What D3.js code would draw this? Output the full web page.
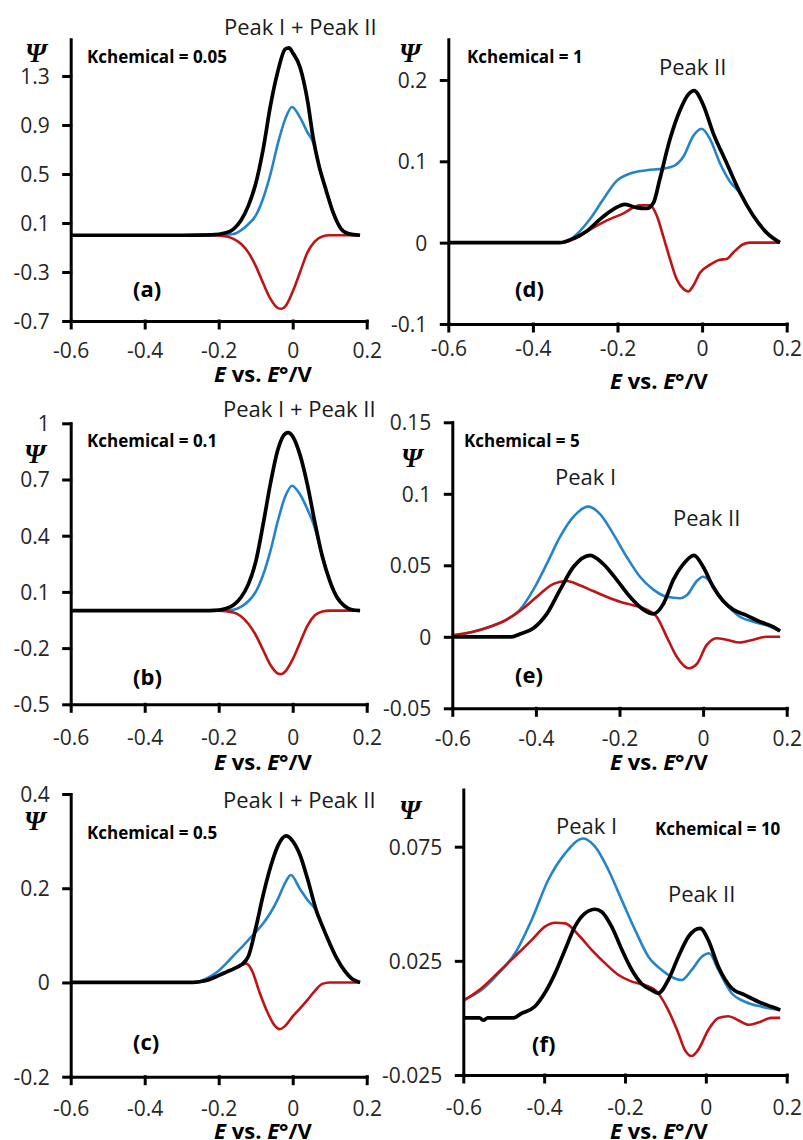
<!DOCTYPE html>
<html>
<head>
<meta charset="utf-8">
<script src="https://cdn.jsdelivr.net/npm/d3@7"></script>
<style>
  body { margin: 0; background: #fff; }
  svg { display: block; }
  .axis path, .axis line { stroke: #000; stroke-width: 3; stroke-linecap: square; }
  .axis text { font-family: "Open Sans", sans-serif; font-size: 21px; fill: #262626; }
  .txt { font-family: "Open Sans", sans-serif; fill: #1a1a1a; }
</style>
</head>
<body>
<div id="chart"></div>
<script>
// E vs. E°/V (V) and Psi values
const xTicks = [-0.6, -0.4, -0.2, 0, 0.2];

const yTicksA = [-0.7, -0.3, 0.1, 0.5, 0.9, 1.3];
const yTicksB = [-0.5, -0.2, 0.1, 0.4, 0.7, 1];
const yTicksC = [-0.2, 0, 0.2, 0.4];
const yTicksD = [-0.1, 0, 0.1, 0.2];
const yTicksE = [-0.05, 0, 0.05, 0.1, 0.15];
const yTicksF = [-0.025, 0.025, 0.075];

const kLabels = ["Kchemical = 0.05", "Kchemical = 0.1", "Kchemical = 0.5",
                 "Kchemical = 1", "Kchemical = 5", "Kchemical = 10"];
const panelTags = ["(a)", "(b)", "(c)", "(d)", "(e)", "(f)"];
const peakTexts = [["Peak I + Peak II"], ["Peak I + Peak II"], ["Peak I + Peak II"],
                   ["Peak II"], ["Peak I", "Peak II"], ["Peak I", "Peak II"]];

// (a) Kchemical = 0.05
const aBlack = [[-0.6,0],[-0.3,0],[-0.22,0.003],[-0.18,0.02],[-0.16,0.05],[-0.14,0.12],[-0.12,0.24],[-0.1,0.42],[-0.08,0.7],[-0.06,1.06],[-0.04,1.34],[-0.02,1.52],[-0.01,1.53],[0,1.49],[0.02,1.37],[0.04,1.1],[0.055,0.8],[0.07,0.58],[0.09,0.37],[0.11,0.18],[0.13,0.055],[0.15,0.013],[0.182,0]];
const aBlue = [[-0.6,0],[-0.2,0],[-0.16,0.01],[-0.14,0.04],[-0.12,0.09],[-0.1,0.16],[-0.08,0.3],[-0.06,0.5],[-0.04,0.75],[-0.02,0.95],[-0.002,1.047],[0.02,0.96],[0.04,0.84],[0.055,0.76],[0.07,0.58],[0.09,0.37],[0.11,0.18],[0.13,0.055],[0.15,0.013],[0.182,0]];
const aRed = [[-0.6,0],[-0.22,0],[-0.18,-0.01],[-0.16,-0.03],[-0.14,-0.07],[-0.12,-0.14],[-0.1,-0.25],[-0.08,-0.39],[-0.06,-0.52],[-0.04,-0.595],[-0.03,-0.6],[-0.02,-0.58],[0,-0.46],[0.02,-0.3],[0.04,-0.14],[0.06,-0.05],[0.08,-0.01],[0.1,0],[0.182,0]];

// (b) Kchemical = 0.1
const bBlack = [[-0.6,0],[-0.25,0],[-0.2,0.003],[-0.18,0.012],[-0.16,0.03],[-0.14,0.07],[-0.12,0.14],[-0.1,0.26],[-0.08,0.46],[-0.06,0.68],[-0.04,0.86],[-0.02,0.945],[-0.012,0.95],[0,0.93],[0.02,0.83],[0.04,0.67],[0.06,0.47],[0.08,0.29],[0.1,0.16],[0.12,0.07],[0.14,0.025],[0.16,0.005],[0.182,0]];
const bBlue = [[-0.6,0],[-0.2,0],[-0.16,0.005],[-0.14,0.02],[-0.12,0.05],[-0.1,0.1],[-0.08,0.19],[-0.06,0.32],[-0.04,0.48],[-0.02,0.61],[-0.002,0.667],[0.02,0.62],[0.04,0.54],[0.06,0.44],[0.08,0.29],[0.1,0.16],[0.12,0.07],[0.14,0.025],[0.16,0.005],[0.182,0]];
const bRed = [[-0.6,0],[-0.2,0],[-0.16,-0.01],[-0.14,-0.03],[-0.12,-0.07],[-0.1,-0.13],[-0.08,-0.21],[-0.06,-0.29],[-0.04,-0.335],[-0.03,-0.338],[-0.02,-0.325],[0,-0.26],[0.02,-0.17],[0.04,-0.08],[0.06,-0.025],[0.08,-0.005],[0.1,0],[0.182,0]];

// (c) Kchemical = 0.5
const cBlack = [[-0.6,0],[-0.27,0],[-0.24,0.003],[-0.22,0.008],[-0.2,0.015],[-0.18,0.022],[-0.16,0.029],[-0.14,0.037],[-0.12,0.055],[-0.1,0.115],[-0.08,0.185],[-0.06,0.245],[-0.04,0.29],[-0.018,0.311],[0,0.3],[0.02,0.27],[0.04,0.22],[0.065,0.15],[0.08,0.12],[0.1,0.083],[0.12,0.05],[0.14,0.025],[0.16,0.008],[0.182,0]];
const cBlue = [[-0.6,0],[-0.27,0],[-0.24,0.006],[-0.22,0.014],[-0.2,0.025],[-0.18,0.04],[-0.16,0.057],[-0.14,0.073],[-0.12,0.09],[-0.1,0.107],[-0.08,0.125],[-0.06,0.148],[-0.04,0.177],[-0.02,0.212],[-0.005,0.228],[0.02,0.198],[0.04,0.175],[0.065,0.15],[0.08,0.12],[0.1,0.083],[0.12,0.05],[0.14,0.025],[0.16,0.008],[0.182,0]];
const cRed = [[-0.6,0],[-0.27,0],[-0.24,0.003],[-0.22,0.008],[-0.2,0.014],[-0.18,0.021],[-0.16,0.029],[-0.14,0.037],[-0.125,0.04],[-0.11,0.025],[-0.09,-0.02],[-0.07,-0.06],[-0.05,-0.09],[-0.035,-0.099],[-0.02,-0.092],[0,-0.072],[0.02,-0.055],[0.04,-0.037],[0.06,-0.018],[0.08,-0.003],[0.1,0],[0.182,0]];

// (d) Kchemical = 1
const dBlack = [[-0.6,0],[-0.336,0],[-0.305,0.005],[-0.273,0.014],[-0.241,0.029],[-0.21,0.041],[-0.182,0.047],[-0.155,0.043],[-0.131,0.042],[-0.115,0.049],[-0.1,0.078],[-0.076,0.127],[-0.052,0.163],[-0.033,0.182],[-0.019,0.187],[0.003,0.169],[0.026,0.135],[0.058,0.098],[0.09,0.061],[0.121,0.033],[0.153,0.012],[0.184,0]];
const dBlue = [[-0.6,0],[-0.328,0],[-0.297,0.01],[-0.265,0.029],[-0.234,0.053],[-0.202,0.076],[-0.17,0.085],[-0.131,0.089],[-0.092,0.091],[-0.068,0.094],[-0.044,0.106],[-0.021,0.131],[-0.001,0.14],[0.019,0.127],[0.042,0.098],[0.066,0.075],[0.09,0.061],[0.121,0.033],[0.153,0.012],[0.184,0]];
const dRed = [[-0.6,0],[-0.33,0],[-0.3,0.005],[-0.265,0.016],[-0.226,0.027],[-0.186,0.036],[-0.147,0.046],[-0.123,0.046],[-0.107,0.033],[-0.092,0.008],[-0.076,-0.02],[-0.06,-0.045],[-0.044,-0.057],[-0.033,-0.06],[-0.021,-0.053],[-0.005,-0.037],[0.019,-0.027],[0.042,-0.021],[0.058,-0.02],[0.074,-0.012],[0.097,-0.002],[0.113,0],[0.184,0]];

// (e) Kchemical = 5
const eBlack = [[-0.6,0],[-0.458,0],[-0.438,0.002],[-0.406,0.006],[-0.374,0.016],[-0.342,0.033],[-0.31,0.049],[-0.27,0.057],[-0.239,0.051],[-0.207,0.04],[-0.175,0.028],[-0.143,0.019],[-0.119,0.016],[-0.095,0.023],[-0.071,0.04],[-0.047,0.051],[-0.022,0.057],[0,0.049],[0.024,0.035],[0.048,0.025],[0.072,0.019],[0.104,0.015],[0.136,0.0105],[0.168,0.007],[0.184,0.004]];
const eBlue = [[-0.6,0.0005],[-0.55,0.0035],[-0.51,0.007],[-0.47,0.012],[-0.438,0.019],[-0.406,0.033],[-0.374,0.051],[-0.342,0.07],[-0.31,0.084],[-0.275,0.091],[-0.247,0.086],[-0.215,0.072],[-0.183,0.056],[-0.151,0.042],[-0.119,0.033],[-0.087,0.028],[-0.055,0.027],[-0.039,0.029],[-0.015,0.039],[0,0.042],[0.016,0.039],[0.04,0.028],[0.064,0.02],[0.088,0.014],[0.12,0.0105],[0.152,0.008],[0.184,0.004]];
const eRed = [[-0.6,0.001],[-0.55,0.0035],[-0.51,0.007],[-0.47,0.012],[-0.43,0.02],[-0.39,0.03],[-0.358,0.037],[-0.326,0.039],[-0.295,0.036],[-0.263,0.032],[-0.231,0.028],[-0.199,0.0245],[-0.167,0.022],[-0.135,0.019],[-0.111,0.014],[-0.087,0],[-0.063,-0.014],[-0.035,-0.022],[-0.015,-0.019],[0.008,-0.006],[0.032,-0.001],[0.056,-0.002],[0.088,-0.004],[0.12,-0.002],[0.152,0],[0.184,0]];

// (f) Kchemical = 10
const fBlack = [[-0.6,0],[-0.56,0],[-0.55,-0.001],[-0.54,0],[-0.476,0],[-0.456,0.002],[-0.423,0.005],[-0.398,0.011],[-0.373,0.0195],[-0.348,0.03],[-0.324,0.04],[-0.299,0.0458],[-0.274,0.0476],[-0.258,0.0465],[-0.233,0.04],[-0.208,0.03],[-0.183,0.021],[-0.159,0.015],[-0.134,0.0122],[-0.118,0.0108],[-0.093,0.0166],[-0.068,0.0268],[-0.043,0.0356],[-0.014,0.0392],[0.006,0.0341],[0.031,0.0224],[0.064,0.013],[0.097,0.01],[0.13,0.0071],[0.163,0.0049],[0.184,0.0035]];
const fBlue = [[-0.6,0.0078],[-0.555,0.0122],[-0.513,0.0195],[-0.472,0.0283],[-0.431,0.0429],[-0.39,0.0604],[-0.348,0.0721],[-0.303,0.0786],[-0.274,0.075],[-0.241,0.0648],[-0.208,0.0516],[-0.175,0.0385],[-0.142,0.0268],[-0.109,0.021],[-0.085,0.018],[-0.06,0.0166],[-0.035,0.021],[-0.01,0.0268],[0.008,0.0283],[0.031,0.021],[0.064,0.0108],[0.097,0.0071],[0.138,0.0049],[0.184,0.0035]];
const fRed = [[-0.6,0.0075],[-0.555,0.013],[-0.513,0.02],[-0.472,0.027],[-0.431,0.0341],[-0.398,0.04],[-0.373,0.0417],[-0.348,0.0414],[-0.315,0.0363],[-0.282,0.0297],[-0.249,0.0239],[-0.216,0.0188],[-0.183,0.0159],[-0.151,0.0144],[-0.118,0.0108],[-0.093,0.0034],[-0.068,-0.0067],[-0.052,-0.014],[-0.035,-0.0167],[-0.019,-0.014],[0.006,-0.0053],[0.031,0],[0.056,0.0007],[0.08,-0.001],[0.105,-0.003],[0.13,-0.002],[0.163,0],[0.184,0]];

const colors = { blue: "#2584c9", red: "#c01414", black: "#000" };

// layout of each panel (pixels)
const panels = [
  { xr: [70.7, 366.7], yr: [321, 39.25], yDom: [-0.7, 1.6], yTicks: yTicksA, series: [aBlue, aRed, aBlack],
    xLab: 30, titleX: 263, titleY: 382, psi: [25, 62], k: [87, 63], tag: [133, 297], peaks: [[224, 35]] },
  { xr: [70.7, 366.7], yr: [704.3, 423.3], yDom: [-0.5, 1], yTicks: yTicksB, series: [bBlue, bRed, bBlack],
    xLab: 33, titleX: 263, titleY: 770, psi: [24, 463], k: [87, 447], tag: [133, 685], peaks: [[223, 417]] },
  { xr: [70.7, 366.7], yr: [1076.7, 794], yDom: [-0.2, 0.4], yTicks: yTicksC, series: [cBlue, cRed, cBlack],
    xLab: 32, titleX: 263, titleY: 1139, psi: [24, 830], k: [87, 839], tag: [133, 1050], peaks: [[223, 808]] },
  { xr: [448.3, 786.7], yr: [324, 39.3], yDom: [-0.1, 0.25], yTicks: yTicksD, series: [dBlue, dRed, dBlack],
    xLab: 25, titleX: 659, titleY: 389, psi: [399, 62], k: [467, 63], tag: [515, 297], peaks: [[659, 75]] },
  { xr: [452.3, 786.7], yr: [708.3, 422.3], yDom: [-0.05, 0.15], yTicks: yTicksE, series: [eBlue, eRed, eBlack],
    xLab: 30, titleX: 659, titleY: 770, psi: [401, 467], k: [464, 447], tag: [515, 683], peaks: [[555, 485], [673, 526]] },
  { xr: [463.3, 786.7], yr: [1075, 789.6], yDom: [-0.025, 0.1], yTicks: yTicksF, series: [fBlue, fRed, fBlack],
    xLab: 33, titleX: 659, titleY: 1139, psi: [399, 819], k: [655, 835], tag: [532, 1052], peaks: [[556, 834], [668, 902]] }
];

const seriesStyle = [
  { color: colors.blue, width: 2.6 },
  { color: colors.red, width: 2.6 },
  { color: colors.black, width: 3.7 }
];

const svg = d3.select("#chart").append("svg")
  .attr("width", 803).attr("height", 1140);

panels.forEach((p, i) => {
  const x = d3.scaleLinear().domain([-0.6, 0.2]).range(p.xr);
  const y = d3.scaleLinear().domain(p.yDom).range(p.yr);
  const g = svg.append("g");

  const line = d3.line()
    .x(d => x(d[0]))
    .y(d => y(d[1]))
    .curve(d3.curveMonotoneX);

  p.series.forEach((s, j) => {
    g.append("path")
      .attr("d", line(s))
      .attr("fill", "none")
      .attr("stroke", seriesStyle[j].color)
      .attr("stroke-width", seriesStyle[j].width)
      .attr("stroke-linejoin", "round");
  });

  const xAxis = g.append("g")
    .attr("class", "axis")
    .attr("transform", `translate(0, ${y(p.yDom[0])})`)
    .call(d3.axisBottom(x).tickValues(xTicks).tickSize(7).tickSizeOuter(0).tickFormat(d => String(d)));
  xAxis.selectAll("text").attr("y", p.xLab).attr("dy", "0.35em");

  const yAxis = g.append("g")
    .attr("class", "axis")
    .attr("transform", `translate(${x(-0.6)}, 0)`)
    .call(d3.axisLeft(y).tickValues(p.yTicks).tickSize(7).tickPadding(14).tickSizeOuter(0).tickFormat(d => String(d)));
  yAxis.selectAll("text").attr("dy", "0.35em");

  // axis title: E vs. E°/V
  const t = g.append("text")
    .attr("class", "txt")
    .attr("x", p.titleX).attr("y", p.titleY)
    .attr("text-anchor", "middle")
    .style("font-size", "22px").style("font-weight", "bold").style("fill", "#000");
  t.append("tspan").style("font-style", "italic").text("E");
  t.append("tspan").text(" vs. ");
  t.append("tspan").style("font-style", "italic").text("E");
  t.append("tspan").text("°/V");

  g.append("text")
    .attr("x", p.psi[0]).attr("y", p.psi[1])
    .style("font-family", "'Liberation Serif', 'DejaVu Serif', serif")
    .style("font-size", "27px").style("font-weight", "bold").style("font-style", "italic")
    .text("Ψ");

  g.append("text")
    .attr("class", "txt")
    .attr("x", p.k[0]).attr("y", p.k[1])
    .style("font-size", "17px").style("font-weight", "bold").style("fill", "#000")
    .text(kLabels[i]);

  g.append("text")
    .attr("class", "txt")
    .attr("x", p.tag[0]).attr("y", p.tag[1])
    .style("font-size", "22px").style("font-weight", "bold").style("fill", "#000")
    .text(panelTags[i]);

  peakTexts[i].forEach((txt, k) => {
    g.append("text")
      .attr("class", "txt")
      .attr("x", p.peaks[k][0]).attr("y", p.peaks[k][1])
      .style("font-size", "22px")
      .text(txt);
  });
});
</script>
</body>
</html>
